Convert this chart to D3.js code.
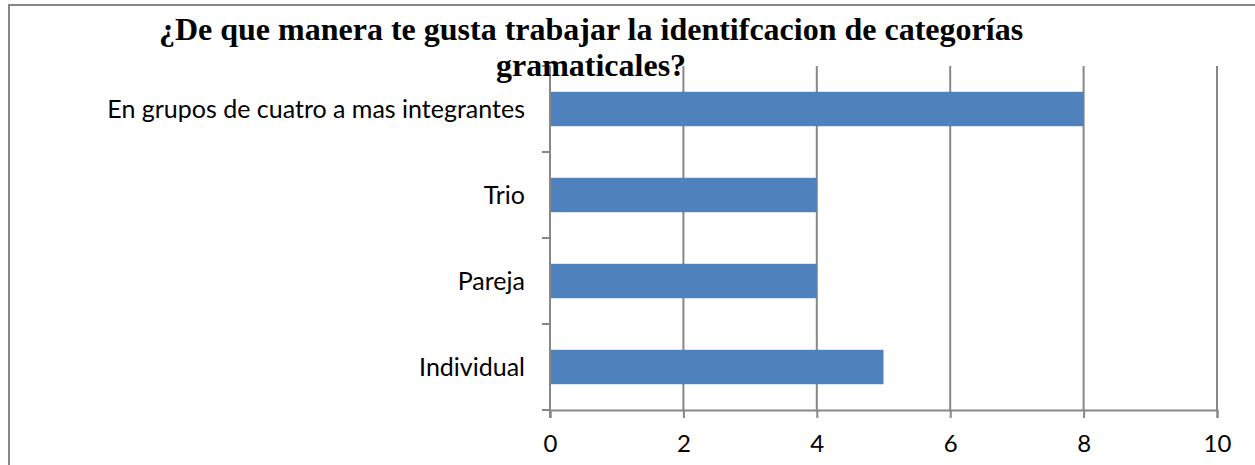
<!DOCTYPE html>
<html>
<head>
<meta charset="utf-8">
<script src="https://cdn.jsdelivr.net/npm/d3@7"></script>
<style>
  body { margin: 0; background: #fff; }
  svg { display: block; }
</style>
</head>
<body>
<div id="chart"></div>
<script>
// chart data
const categories = ["En grupos de cuatro a mas integrantes", "Trio", "Pareja", "Individual"];
const values = [8, 4, 4, 5];
const xTicks = [0, 2, 4, 6, 8, 10];
const titleLines = ["¿De que manera te gusta trabajar la identifcacion de categorías", "gramaticales?"];

const width = 1255, height = 465;
const margin = { top: 66, right: 38, bottom: 55, left: 550 };
const gray = "#878787";
const labelFont = "Lato, 'Open Sans', sans-serif";

const svg = d3.select("#chart").append("svg")
    .attr("width", width)
    .attr("height", height);

// outer frame (only top and left are inside the picture)
svg.append("rect")
    .attr("x", 9).attr("y", 5)
    .attr("width", width + 20).attr("height", height + 20)
    .attr("fill", "none")
    .attr("stroke", gray)
    .attr("stroke-width", 2);

const x = d3.scaleLinear()
    .domain([0, 10])
    .range([margin.left, width - margin.right]);

const y = d3.scaleBand()
    .domain(categories)
    .range([margin.top, height - margin.bottom])
    .paddingInner(0.6)
    .paddingOuter(0.3);

const plotBottom = height - margin.bottom;

// vertical gridlines
svg.append("g")
    .selectAll("line")
    .data(xTicks.slice(1))
    .enter()
    .append("line")
    .attr("x1", d => x(d)).attr("x2", d => x(d))
    .attr("y1", margin.top).attr("y2", plotBottom)
    .attr("stroke", gray)
    .attr("stroke-width", 2);

// bars
svg.append("g")
    .selectAll("rect")
    .data(categories)
    .enter()
    .append("rect")
    .attr("x", x(0))
    .attr("y", d => y(d))
    .attr("width", (d, i) => x(values[i]) - x(0))
    .attr("height", y.bandwidth())
    .attr("fill", "#4f81bd");

// x axis
const xAxis = svg.append("g")
    .attr("transform", `translate(0,${plotBottom})`)
    .call(d3.axisBottom(x).tickValues(xTicks).tickSize(8).tickPadding(17));
xAxis.select(".domain").attr("stroke", gray).attr("stroke-width", 2);
xAxis.selectAll(".tick line").attr("stroke", gray).attr("stroke-width", 2);
xAxis.selectAll(".tick text")
    .attr("fill", "#000")
    .style("font-family", labelFont)
    .style("font-size", "24px");

// y axis with category ticks between bands
const yAxis = svg.append("g")
    .attr("transform", `translate(${margin.left},0)`);
yAxis.append("line")
    .attr("x1", 0).attr("x2", 0)
    .attr("y1", margin.top).attr("y2", plotBottom + 8)
    .attr("stroke", gray).attr("stroke-width", 2);
const step = y.step();
yAxis.selectAll(".ytick")
    .data(d3.range(categories.length + 1))
    .enter()
    .append("line")
    .attr("class", "ytick")
    .attr("x1", -8).attr("x2", 0)
    .attr("y1", i => margin.top + i * step)
    .attr("y2", i => margin.top + i * step)
    .attr("stroke", gray).attr("stroke-width", 2);
yAxis.selectAll(".ylabel")
    .data(categories)
    .enter()
    .append("text")
    .attr("class", "ylabel")
    .attr("x", -25)
    .attr("y", d => y(d) + y.bandwidth() / 2)
    .attr("dy", "0.35em")
    .attr("text-anchor", "end")
    .style("font-family", labelFont)
    .style("font-size", "25px")
    .text(d => d);

// title
svg.append("g")
    .selectAll("text")
    .data(titleLines)
    .enter()
    .append("text")
    .attr("x", 591)
    .attr("y", (d, i) => 40 + i * 36)
    .attr("text-anchor", "middle")
    .style("font-family", "'Liberation Serif', 'Times New Roman', serif")
    .style("font-weight", "bold")
    .style("font-size", "32px")
    .text(d => d);
</script>
</body>
</html>
